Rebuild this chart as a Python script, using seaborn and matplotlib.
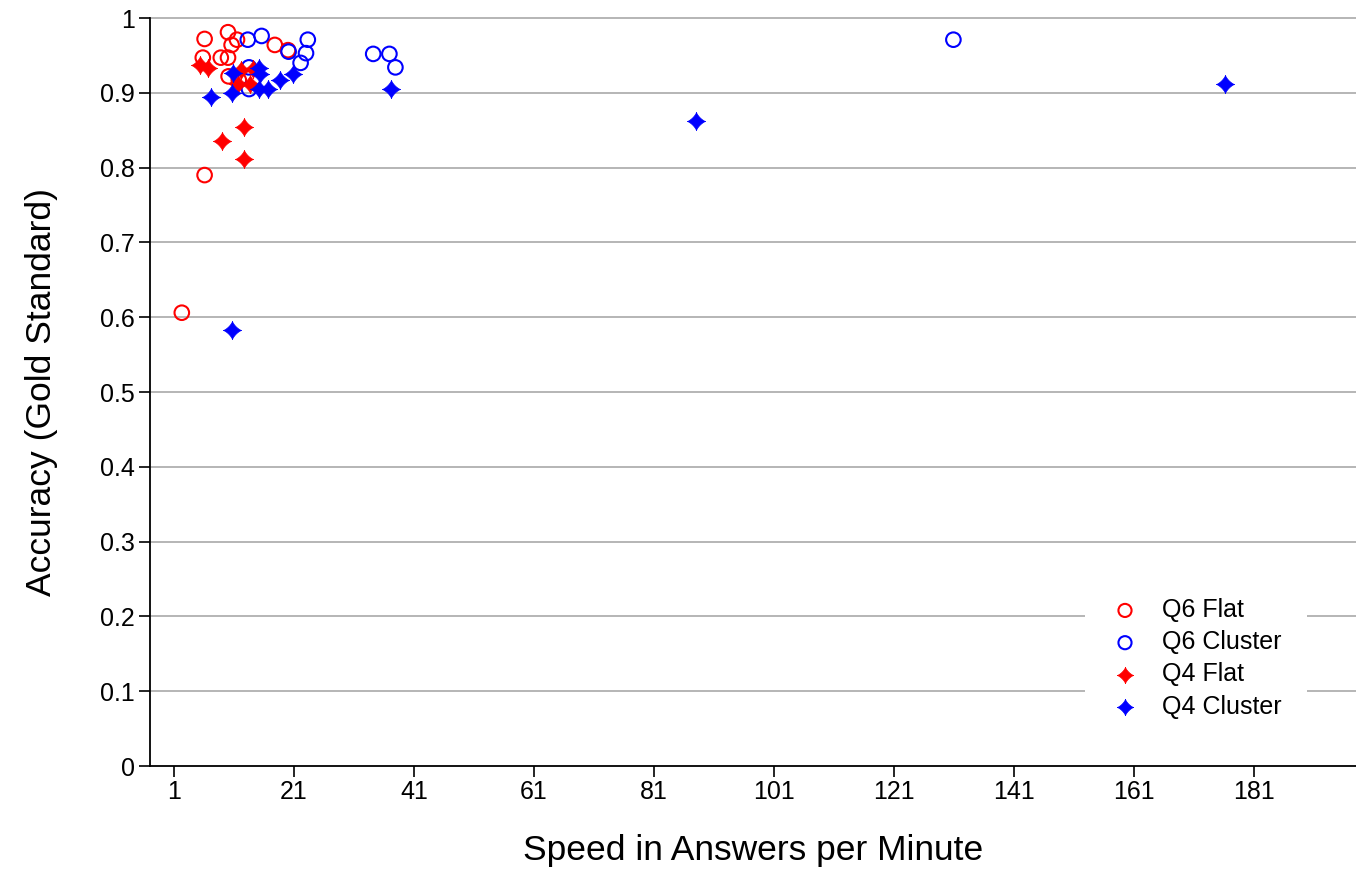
import numpy as np
import pandas as pd
import matplotlib
matplotlib.use("Agg")
import matplotlib.pyplot as plt
from matplotlib.path import Path
import seaborn as sns

# ---- data ----
q6_flat_x = [2.3, 6.1, 6.1, 5.8, 10.0, 8.8, 10.0, 10.6, 11.5, 10.1, 17.8, 20.0, 11.8]
q6_flat_y = [0.606, 0.790, 0.972, 0.947, 0.981, 0.947, 0.947, 0.964, 0.971, 0.922, 0.964, 0.957, 0.917]

q6_cluster_x = [13.3, 15.6, 20.1, 23.3, 23.0, 22.1, 13.5, 13.5, 34.2, 36.9, 37.9, 130.9]
q6_cluster_y = [0.971, 0.976, 0.955, 0.971, 0.953, 0.940, 0.934, 0.905, 0.952, 0.952, 0.934, 0.971]

q4_flat_x = [5.3, 6.6, 9.0, 12.6, 12.6, 11.6, 12.1, 13.6, 14.1]
q4_flat_y = [0.937, 0.933, 0.836, 0.854, 0.811, 0.912, 0.930, 0.912, 0.932]

q4_cluster_x = [7.1, 10.6, 10.6, 10.8, 15.1, 15.3, 15.1, 16.6, 18.6, 20.8, 37.2, 88.0, 176.1]
q4_cluster_y = [0.894, 0.583, 0.900, 0.926, 0.933, 0.925, 0.905, 0.905, 0.917, 0.925, 0.905, 0.862, 0.912]

x_ticks = [1, 21, 41, 61, 81, 101, 121, 141, 161, 181]
y_ticks = [0, 0.1, 0.2, 0.3, 0.4, 0.5, 0.6, 0.7, 0.8, 0.9, 1]
y_tick_labels = ["0", "0.1", "0.2", "0.3", "0.4", "0.5", "0.6", "0.7", "0.8", "0.9", "1"]

# ---- style ----
sns.set_theme(style="white")
plt.rcParams['font.family'] = ['Liberation Sans', 'DejaVu Sans']

# 4-point concave star marker (astroid-like)
t = np.linspace(0, 2 * np.pi, 73)
n = 2.6
sx = np.sign(np.cos(t)) * np.abs(np.cos(t)) ** n
sy = np.sign(np.sin(t)) * np.abs(np.sin(t)) ** n
star = Path(np.column_stack([sx, sy]), closed=True)

fig = plt.figure(figsize=(13.56, 8.69), dpi=100)
ax = fig.add_axes([150 / 1356, 1 - 766 / 869, 1 - 150 / 1356, (766 - 18) / 869])

ax.set_xlim(-3, 198)
ax.set_ylim(0, 1)
ax.set_yticks(y_ticks)
ax.set_yticklabels(y_tick_labels)
ax.set_xticks(x_ticks)

for y in y_ticks[1:]:
    ax.axhline(y, color='#b0b0b0', lw=1.3, zorder=0, clip_on=False)

sns.scatterplot(x=q6_flat_x, y=q6_flat_y, ax=ax, marker='o', s=110,
                facecolors='none', edgecolor='red', linewidth=1.5, label='Q6 Flat', zorder=3)
sns.scatterplot(x=q6_cluster_x, y=q6_cluster_y, ax=ax, marker='o', s=110,
                facecolors='none', edgecolor='blue', linewidth=1.5, label='Q6 Cluster', zorder=3)
sns.scatterplot(x=q4_flat_x, y=q4_flat_y, ax=ax, marker=star, s=170,
                color='red', edgecolor='red', linewidth=0.5, label='Q4 Flat', zorder=4)
sns.scatterplot(x=q4_cluster_x, y=q4_cluster_y, ax=ax, marker=star, s=170,
                color='blue', edgecolor='blue', linewidth=0.5, label='Q4 Cluster', zorder=4)

for side in ['top', 'right']:
    ax.spines[side].set_visible(False)
for side in ['left', 'bottom']:
    ax.spines[side].set_color('black')
    ax.spines[side].set_linewidth(1.3)

ax.tick_params(axis='both', which='major', direction='out', length=8, width=1.2,
               color='black', labelsize=18, labelcolor='black', pad=3)
ax.tick_params(axis='x', bottom=True, pad=2)
ax.tick_params(axis='y', left=True)

ax.set_xlabel('Speed in Answers per Minute', fontsize=25.5, labelpad=22, color='black')
ax.set_ylabel('Accuracy (Gold Standard)', fontsize=25.5, labelpad=30, color='black')

leg = ax.legend(loc='upper left', bbox_to_anchor=((1085 - 150) / 1206, (766 - 573) / 748),
                fontsize=18, frameon=True, facecolor='white', edgecolor='white', framealpha=1,
                borderpad=1.0, borderaxespad=0, handlelength=1.2, handletextpad=0.9,
                labelspacing=0.33, markerscale=0.9, labelcolor='black', fancybox=False)
leg.get_frame().set_linewidth(0)
leg.set_zorder(10)

fig.savefig('out.png', dpi=100)
